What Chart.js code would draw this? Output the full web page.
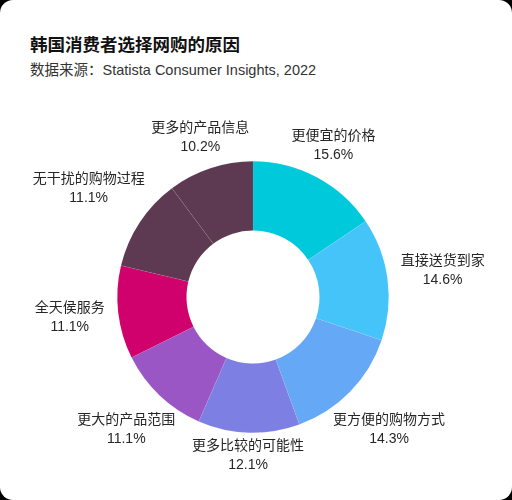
<!DOCTYPE html>
<html>
<head>
<meta charset="utf-8">
<script src="https://cdn.jsdelivr.net/npm/chart.js@4"></script>
<style>
    html, body { margin: 0; padding: 0; background: #000; }
    .card {
        position: relative;
        width: 512px;
        height: 500px;
        background: #fff;
        border-radius: 13px;
        overflow: hidden;
        font-family: "Liberation Sans", "Noto Sans CJK SC", sans-serif;
    }
    .title {
        position: absolute;
        left: 30px;
        top: 31px;
        font-size: 17.5px;
        font-weight: bold;
        color: #111;
    }
    .sub {
        position: absolute;
        left: 30px;
        top: 58px;
        font-size: 14.5px;
        color: #333;
    }
    canvas { position: absolute; left: 0; top: 0; }
</style>
</head>
<body>
<div class="card">
    <div class="title">韩国消费者选择网购的原因</div>
    <div class="sub">数据来源：Statista Consumer Insights, 2022</div>
    <canvas id="chart1" width="512" height="500"></canvas>
</div>
<script>
var categories = ['更便宜的价格', '直接送货到家', '更方便的购物方式', '更多比较的可能性',
    '更大的产品范围', '全天侯服务', '无干扰的购物过程', '更多的产品信息'];
var shares = [15.6, 14.6, 14.3, 12.1, 11.1, 11.1, 11.1, 10.2];
var colors = ['#00c9db', '#45c4fa', '#64a8f6', '#7d80e2', '#9b56c6', '#d0006c', '#5e3a52', '#5e3a52'];

// labels outside each slice, pushed out by the size of the text block
var outsideLabels = {
    id: 'outsideLabels',
    afterDatasetsDraw: function (chart) {
        var ctx = chart.ctx;
        var meta = chart.getDatasetMeta(0);
        ctx.save();
        ctx.font = '14px "Liberation Sans", "Noto Sans CJK SC", sans-serif';
        ctx.fillStyle = '#262626';
        ctx.textAlign = 'center';
        ctx.textBaseline = 'middle';
        meta.data.forEach(function (arc, i) {
            var mid = (arc.startAngle + arc.endAngle) / 2;
            var c = Math.cos(mid), s = Math.sin(mid);
            var w = ctx.measureText(categories[i]).width;
            var ext = Math.sqrt(Math.pow(w / 2 * c, 2) + Math.pow(9 * s, 2));
            var r = arc.outerRadius + 14 + ext;
            var x = arc.x + r * c;
            var y = arc.y + r * s;
            ctx.fillText(categories[i], x, y - 10);
            ctx.fillText(shares[i].toFixed(1) + '%', x, y + 9);
        });
        ctx.restore();
    }
};

var chart1 = new Chart(document.getElementById('chart1'), {
    type: 'doughnut',
    data: {
        labels: categories,
        datasets: [
            {
                data: shares,
                backgroundColor: colors,
                borderColor: 'rgba(255,255,255,0.1)',
                borderWidth: 0.6,
            },
        ],
    },
    options: {
        responsive: false,
        animation: false,
        cutout: '49%',
        layout: { padding: { left: 117, right: 123, top: 161, bottom: 67 } },
        plugins: {
            legend: { display: false },
            tooltip: { enabled: false },
        },
    },
    plugins: [outsideLabels],
});
</script>
</body>
</html>
